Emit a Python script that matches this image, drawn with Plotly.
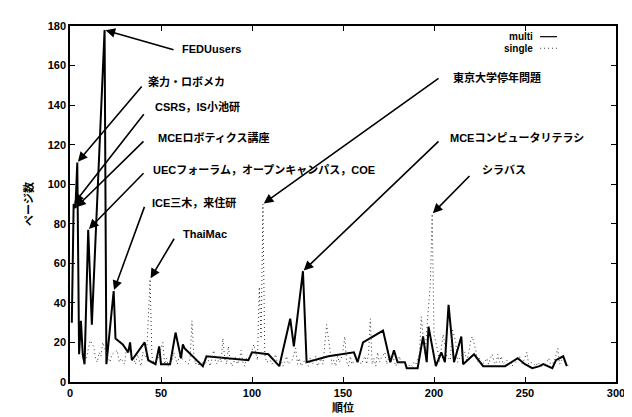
import plotly.graph_objects as go

# ---- data ----
multi_x = [1, 2, 3, 4, 5, 6, 7, 8, 10, 12, 19, 20, 24, 25, 29, 32, 33, 34, 41, 43,
           47, 49, 50, 55, 58, 61, 62, 63, 73, 75, 98, 100, 109, 115, 121, 123, 128,
           130, 142, 156, 158, 161, 172, 176, 178, 180, 184, 185, 191, 194, 196, 197,
           201, 204, 206, 208, 211, 215, 216, 222, 227, 239, 246, 250, 254, 258, 260,
           265, 267, 271, 273]
multi_y = [30, 90, 88, 111, 14, 31, 14, 9, 77, 29, 178, 9, 46, 22, 19, 15, 20, 11, 20, 11,
           9, 18, 9, 9, 25, 12, 19, 17, 8, 13, 11, 15, 14, 8, 32, 18, 56,
           10, 13, 15, 10, 20, 26, 10, 16, 10, 10, 7, 7, 23, 10, 28,
           8, 15, 10, 39, 10, 23, 9, 14, 8, 8, 12, 9, 7, 8, 9,
           7, 11, 13, 8]

single_x = [9, 11, 13, 14, 15, 16, 17, 18, 21, 22, 23, 26, 27, 28, 30, 31, 35, 36, 37, 38,
            39, 40, 42, 44, 45, 46, 48, 51, 52, 53, 54, 56, 57, 59, 60, 64, 65, 66, 67, 68,
            69, 70, 71, 72, 74, 76, 77, 78, 79, 80, 81, 82, 83, 84, 85, 86, 87, 88, 89, 90,
            91, 92, 93, 94, 95, 96, 97, 99, 101, 102, 103, 104, 105, 106, 107, 108, 110, 111,
            112, 113, 114, 116, 117, 118, 119, 120, 122, 124, 125, 126, 127, 129, 131, 132,
            133, 134, 135, 136, 137, 138, 139, 140, 141, 143, 144, 145, 146, 147, 148, 149,
            150, 151, 152, 153, 154, 155, 157, 159, 160, 162, 163, 164, 165, 166, 167, 168,
            169, 170, 171, 173, 174, 175, 177, 179, 181, 182, 183, 186, 187, 188, 189, 190,
            192, 193, 195, 198, 199, 200, 202, 203, 205, 207, 209, 210, 212, 213, 214, 217,
            218, 219, 220, 221, 223, 224, 225, 226, 228, 229, 230, 231, 232, 233, 234, 235,
            236, 237, 238, 240, 241, 242, 243, 244, 245, 247, 248, 249, 251, 252, 253, 255,
            256, 257, 259, 261, 262, 263, 264, 266, 268, 269, 270, 272, 274]
single_y = [12, 21, 18, 12, 10, 15, 13, 20, 12, 10, 14, 16, 10, 12, 9, 17, 12, 9, 14, 11,
            8, 15, 12, 52, 13, 10, 11, 20, 9, 12, 8, 11, 15, 9, 13, 10, 9, 12, 31, 14,
            9, 11, 8, 10, 9, 11, 8, 12, 16, 10, 9, 13, 10, 22, 12, 9, 18, 11, 8, 10,
            13, 9, 11, 16, 10, 8, 12, 13, 19, 15, 11, 48, 22, 90, 14, 10, 11, 9,
            12, 14, 9, 11, 8, 10, 13, 9, 11, 17, 9, 12, 8, 11, 8, 12,
            9, 10, 13, 8, 10, 12, 9, 18, 29, 15, 9, 11, 8, 13, 10, 12,
            16, 23, 10, 8, 13, 9, 12, 11, 9, 13, 9, 14, 32, 9, 12, 8,
            15, 10, 12, 15, 9, 12, 14, 8, 13, 9, 10, 8, 9, 8, 10, 9,
            14, 33, 14, 50, 85, 24, 16, 10, 24, 13, 11, 27, 20, 10, 12, 15,
            11, 14, 20, 23, 16, 10, 12, 9, 10, 12, 9, 12, 14, 10, 9, 14,
            10, 13, 9, 11, 9, 10, 8, 11, 10, 13, 9, 10, 15, 9, 10, 9,
            8, 10, 8, 9, 10, 12, 9, 10, 17, 9, 11, 10, 8]

x_ticks = [0, 50, 100, 150, 200, 250, 300]
y_ticks = [0, 20, 40, 60, 80, 100, 120, 140, 160, 180]
series_names = ["multi", "single"]

# labels: (text, series, target rank, arrow tail x, tail y, text x, text y)
labels = [
    ("FEDUusers", "multi", 19, 57.7, 167.8, 60.4, 168.3),
    ("楽力・ロボメカ", "multi", 4, 40.1, 150.2, 41.8, 151.7),
    ("CSRS，IS小池研", "multi", 2, 41.2, 136.1, 45.6, 139.5),
    ("MCEロボティクス講座", "multi", 3, 41.2, 122.4, 47.3, 123.4),
    ("UECフォーラム，オープンキャンパス，COE", "multi", 10, 41.2, 106.3, 44.5, 107.3),
    ("ICE三木，来住研", "multi", 24, 41.2, 89.3, 44.0, 90.7),
    ("ThaiMac", "single", 44, 57.7, 73.2, 61.0, 74.6),
    ("東京大学停年問題", "single", 106, 203.3, 154.1, 209.3, 154.1),
    ("MCEコンピュータリテラシ", "multi", 128, 203.3, 122.4, 207.7, 123.4),
    ("シラバス", "single", 199, 220.3, 104.9, 225.3, 107.3),
]

FONT = "Liberation Sans, Arial, Noto Sans CJK JP, sans-serif"
BOLD = dict(family=FONT, size=11, color="black", weight="bold")

multi_line = dict(color="black", width=2)
single_line = dict(color="#333333", width=1, dash="1px,3px")

fig = go.Figure()
fig.add_trace(go.Scatter(x=multi_x, y=multi_y, mode="lines", name=series_names[0],
                         line=multi_line, showlegend=False))
fig.add_trace(go.Scatter(x=single_x, y=single_y, mode="lines", name=series_names[1],
                         line=single_line, showlegend=False))

series = {"multi": dict(zip(multi_x, multi_y)), "single": dict(zip(single_x, single_y))}
for text, s, rank, tx, ty, lx, ly in labels:
    fig.add_annotation(x=rank, y=series[s][rank], ax=tx, ay=ty, axref="x", ayref="y",
                       text="", showarrow=True, arrowhead=2, arrowsize=1.2,
                       arrowwidth=1.6, arrowcolor="black", standoff=1)
    fig.add_annotation(x=lx, y=ly, text=text, showarrow=False, xanchor="left",
                       yanchor="middle", font=BOLD)

# gnuplot-style key: right-aligned text followed by the line sample
key_rows = [(series_names[0], 0.970, multi_line), (series_names[1], 0.9375, single_line)]
for name, ky, ln in key_rows:
    fig.add_annotation(x=0.852, y=ky, xref="paper", yref="paper", text=name,
                       showarrow=False, xanchor="right", yanchor="middle",
                       font=dict(BOLD, size=10))
    fig.add_shape(type="line", xref="paper", yref="paper", x0=0.861, x1=0.892,
                  y0=ky, y1=ky, line=dict(ln, width=1.2 if ln is multi_line else 1))

axis_common = dict(showline=True, linecolor="black", linewidth=1.5, mirror="allticks",
                   ticks="inside", ticklen=5, tickcolor="black", tickwidth=1.2,
                   showgrid=False, zeroline=False, tickfont=BOLD)
fig.update_xaxes(range=[0, 300], tickvals=x_ticks, ticktext=[str(v) for v in x_ticks],
                 title=dict(text="順位", font=BOLD, standoff=6), **axis_common)
fig.update_yaxes(range=[0, 180], tickvals=y_ticks, ticktext=[str(v) for v in y_ticks],
                 title=dict(text="ページ数", font=BOLD, standoff=12), **axis_common)

fig.update_layout(
    width=632, height=417,
    margin=dict(l=62, r=24, t=14, b=35),
    paper_bgcolor="white", plot_bgcolor="white",
    font=dict(family=FONT, size=11, color="black"),
    showlegend=False,
)

fig.write_html("out.html")
